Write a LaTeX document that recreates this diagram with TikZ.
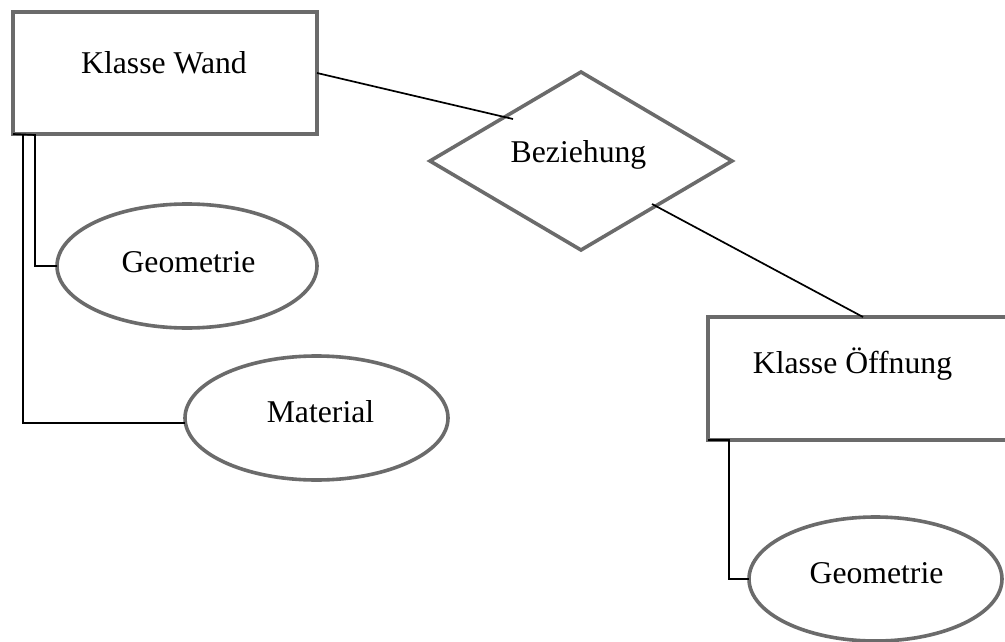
\documentclass[tikz,border=0pt]{standalone}
\usepackage{fontspec}
\setmainfont{Liberation Serif}
\usetikzlibrary{shapes.geometric}
\definecolor{shapegray}{RGB}{107,107,107}
\tikzset{
  shapebox/.style={draw=shapegray, line width=3.6pt, rectangle, inner sep=0pt, outer sep=0pt, fill=white},
  ell/.style={draw=shapegray, line width=3.6pt, ellipse, inner sep=0pt, outer sep=0pt, fill=white},
  dia/.style={draw=shapegray, line width=3.6pt, diamond, inner sep=0pt, outer sep=0pt, fill=white},
  lbl/.style={anchor=base, inner sep=0pt, font=\fontsize{31.7}{38}\selectfont},
  conn/.style={draw=black, line width=1.7pt}
}
\begin{document}
\begin{tikzpicture}[x=1pt, y=-1pt]
\useasboundingbox (0,0) rectangle (1005,642);
\fill[white] (0,0) rectangle (1005,642);
% shapes
\node[shapebox, minimum width=304pt, minimum height=122pt] (wand) at (165,73) {};
\node[ell, minimum width=260pt, minimum height=124pt] (geo1) at (187,266) {};
\node[ell, minimum width=263pt, minimum height=124pt] (mat) at (316.5,418) {};
\node[dia, minimum width=302pt, minimum height=178pt] (bez) at (581,161) {};
\node[shapebox, minimum width=310pt, minimum height=123pt] (oeff) at (863,378.5) {};
\node[ell, minimum width=253pt, minimum height=124pt] (geo2) at (875.5,579) {};
% labels
\node[lbl] (twand) at (164,74) {Klasse Wand};
\node[lbl] (tgeo1) at (188.5,272) {Geometrie};
\node[lbl] (tmat) at (320.5,422) {Material};
\node[lbl] (tbez) at (578.5,162) {Beziehung};
\node[lbl] (toeff) at (852.5,373) {Klasse Öffnung};
\node[lbl] (tgeo2) at (876.5,583) {Geometrie};
% connector end points
\coordinate (bzin1) at (513,119);
\coordinate (bzin2) at (652,204);
\coordinate (wandc1) at (35,135);
\coordinate (wandc2) at (23,135);
% connectors
\draw[conn] (wand.east) -- (bzin1);
\draw[conn] (bzin2) -- (oeff.north);
\draw[conn] (wand.south west) -- (wandc1) |- (geo1.west);
\draw[conn] (wandc2) |- ([yshift=-5pt]mat.west);
\draw[conn] (oeff.south west) -- ++(21,0) |- (geo2.west);
\end{tikzpicture}
\end{document}
